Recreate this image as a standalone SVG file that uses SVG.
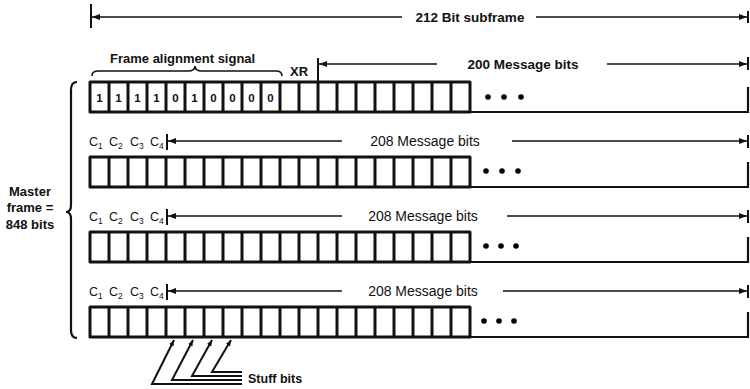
<svg xmlns="http://www.w3.org/2000/svg" width="750" height="389" viewBox="0 0 750 389">
<style>
text{font-family:"Liberation Sans",Arial,Helvetica,sans-serif;fill:#111}
.b{font-weight:bold}
.cells{fill:#fff;stroke:#111;stroke-width:3;stroke-linejoin:round}
.div{stroke:#111;stroke-width:3;fill:none}
.ln{stroke:#111;stroke-width:1.6;fill:none}
.st{stroke:#111;stroke-width:2;fill:none}
.hv{stroke:#111;stroke-width:2.2;fill:none}
.bar{stroke:#111;stroke-width:2;fill:none}
.dig{font-size:11.5px;font-weight:bold;text-anchor:middle}
.msg{font-size:14px;text-anchor:middle}
.c{font-size:12.5px}
.sub{font-size:8.5px}
</style>
<defs>
<marker id="ah" viewBox="0 0 8 6" refX="8" refY="3" markerWidth="8" markerHeight="6" markerUnits="userSpaceOnUse" orient="auto-start-reverse"><path d="M0,0 L8,3 L0,6 z" fill="#111"/></marker>
<marker id="sh" viewBox="0 0 6 6" refX="6" refY="3" markerWidth="6" markerHeight="6" markerUnits="userSpaceOnUse" orient="auto"><path d="M0,0.5 L6,3 L0,5.5 z" fill="#111"/></marker>
</defs>

<g id="subframe-dimension">
<line class="bar" x1="91" y1="4" x2="91" y2="28"/>
<line class="bar" x1="748" y1="11" x2="748" y2="23"/>
<text class="b" x="470" y="22" font-size="13.5" text-anchor="middle">212 Bit subframe</text>
</g>

<g id="master-frame-label">
<text class="b" font-size="13" text-anchor="middle"><tspan x="30" y="196">Master</tspan><tspan x="30" y="212">frame =</tspan><tspan x="30" y="229">848 bits</tspan></text>
<path class="hv" d="M77,82 Q71,82 71,90 L71,205 Q71,212 66,212 Q71,212 71,219 L71,330 Q71,338 77,338"/>
</g>

<g id="row1">
<text class="b" x="110" y="63" font-size="13">Frame alignment signal</text>
<path class="ln" d="M92,76 Q92,71 98,71 L188,71 Q195,71 195,66 Q195,71 202,71 L276,71 Q282,71 282,76"/>
<text class="b" x="290" y="76" font-size="13">XR</text>
<line class="bar" x1="318" y1="58" x2="318" y2="81"/>
<line class="bar" x1="748" y1="57" x2="748" y2="70"/>
<text class="b" x="523" y="69" font-size="13.5" text-anchor="middle">200 Message bits</text>
<rect class="cells" x="90" y="82" width="380" height="30"/>
<path class="div" d="M109,82v30M128,82v30M147,82v30M166,82v30M185,82v30M204,82v30M223,82v30M242,82v30M261,82v30M280,82v30M299,82v30M318,82v30M337,82v30M356,82v30M375,82v30M394,82v30M413,82v30M432,82v30M451,82v30"/>
<g class="dig"><text x="99.5" y="102">1</text><text x="118.5" y="102">1</text><text x="137.5" y="102">1</text><text x="156.5" y="102">1</text><text x="175.5" y="102">0</text><text x="194.5" y="102">1</text><text x="213.5" y="102">0</text><text x="232.5" y="102">0</text><text x="251.5" y="102">0</text><text x="270.5" y="102">0</text></g>
<path class="hv" d="M470,112 H748 V87"/>
<circle cx="488" cy="97" r="2.8"/><circle cx="504" cy="97" r="2.8"/><circle cx="521" cy="97" r="2.8"/>
</g>

<g id="row2">
<text class="c"><tspan x="89" y="146">C</tspan><tspan class="sub" dy="3">1</tspan><tspan x="109" y="146">C</tspan><tspan class="sub" dy="3">2</tspan><tspan x="130" y="146">C</tspan><tspan class="sub" dy="3">3</tspan><tspan x="150" y="146">C</tspan><tspan class="sub" dy="3">4</tspan></text>
<line class="bar" x1="167" y1="134" x2="167" y2="150"/>
<line class="bar" x1="748" y1="135" x2="748" y2="148"/>
<text class="msg" x="425" y="146">208 Message bits</text>
<rect class="cells" x="90" y="157" width="380" height="30"/>
<path class="div" d="M109,157v30M128,157v30M147,157v30M166,157v30M185,157v30M204,157v30M223,157v30M242,157v30M261,157v30M280,157v30M299,157v30M318,157v30M337,157v30M356,157v30M375,157v30M394,157v30M413,157v30M432,157v30M451,157v30"/>
<path class="hv" d="M470,187 H748 V162"/>
<circle cx="486" cy="171" r="2.8"/><circle cx="502" cy="171" r="2.8"/><circle cx="518" cy="171" r="2.8"/>
</g>

<g id="row3">
<text class="c"><tspan x="89" y="221">C</tspan><tspan class="sub" dy="3">1</tspan><tspan x="109" y="221">C</tspan><tspan class="sub" dy="3">2</tspan><tspan x="130" y="221">C</tspan><tspan class="sub" dy="3">3</tspan><tspan x="150" y="221">C</tspan><tspan class="sub" dy="3">4</tspan></text>
<line class="bar" x1="167" y1="209" x2="167" y2="225"/>
<line class="bar" x1="748" y1="210" x2="748" y2="223"/>
<text class="msg" x="423" y="221">208 Message bits</text>
<rect class="cells" x="90" y="232" width="380" height="30"/>
<path class="div" d="M109,232v30M128,232v30M147,232v30M166,232v30M185,232v30M204,232v30M223,232v30M242,232v30M261,232v30M280,232v30M299,232v30M318,232v30M337,232v30M356,232v30M375,232v30M394,232v30M413,232v30M432,232v30M451,232v30"/>
<path class="hv" d="M470,262 H748 V237"/>
<circle cx="486" cy="246" r="2.8"/><circle cx="501" cy="246" r="2.8"/><circle cx="516" cy="246" r="2.8"/>
</g>

<g id="row4">
<text class="c"><tspan x="89" y="296">C</tspan><tspan class="sub" dy="3">1</tspan><tspan x="109" y="296">C</tspan><tspan class="sub" dy="3">2</tspan><tspan x="130" y="296">C</tspan><tspan class="sub" dy="3">3</tspan><tspan x="150" y="296">C</tspan><tspan class="sub" dy="3">4</tspan></text>
<line class="bar" x1="167" y1="284" x2="167" y2="300"/>
<line class="bar" x1="748" y1="285" x2="748" y2="298"/>
<text class="msg" x="423" y="296">208 Message bits</text>
<rect class="cells" x="90" y="307" width="380" height="30"/>
<path class="div" d="M109,307v30M128,307v30M147,307v30M166,307v30M185,307v30M204,307v30M223,307v30M242,307v30M261,307v30M280,307v30M299,307v30M318,307v30M337,307v30M356,307v30M375,307v30M394,307v30M413,307v30M432,307v30M451,307v30"/>
<path class="hv" d="M470,337 H748 V312"/>
<circle cx="484" cy="321" r="2.8"/><circle cx="499" cy="321" r="2.8"/><circle cx="514" cy="321" r="2.8"/>
</g>

<g id="stuff-bits">
<text class="b" x="248" y="383" font-size="12.5">Stuff bits</text>
</g>

<g id="connectors">
<line class="ln" x1="92" y1="17" x2="402" y2="17" marker-start="url(#ah)"/>
<line class="ln" x1="536" y1="17" x2="747" y2="17" marker-end="url(#ah)"/>
<line class="ln" x1="319" y1="64" x2="437" y2="64" marker-start="url(#ah)"/>
<line class="ln" x1="607" y1="64" x2="747" y2="64" marker-end="url(#ah)"/>
<line class="ln" x1="168" y1="141" x2="342" y2="141" marker-start="url(#ah)"/>
<line class="ln" x1="512" y1="141" x2="747" y2="141" marker-end="url(#ah)"/>
<line class="ln" x1="168" y1="216" x2="342" y2="216" marker-start="url(#ah)"/>
<line class="ln" x1="507" y1="216" x2="747" y2="216" marker-end="url(#ah)"/>
<line class="ln" x1="168" y1="291" x2="342" y2="291" marker-start="url(#ah)"/>
<line class="ln" x1="503" y1="291" x2="747" y2="291" marker-end="url(#ah)"/>
<path class="st" d="M242,384 H152 L174,340" marker-end="url(#sh)"/>
<path class="st" d="M242,380 H172 L193,340" marker-end="url(#sh)"/>
<path class="st" d="M242,376 H192 L212,340" marker-end="url(#sh)"/>
<path class="st" d="M242,372 H212 L231,340" marker-end="url(#sh)"/>
</g>
</svg>
